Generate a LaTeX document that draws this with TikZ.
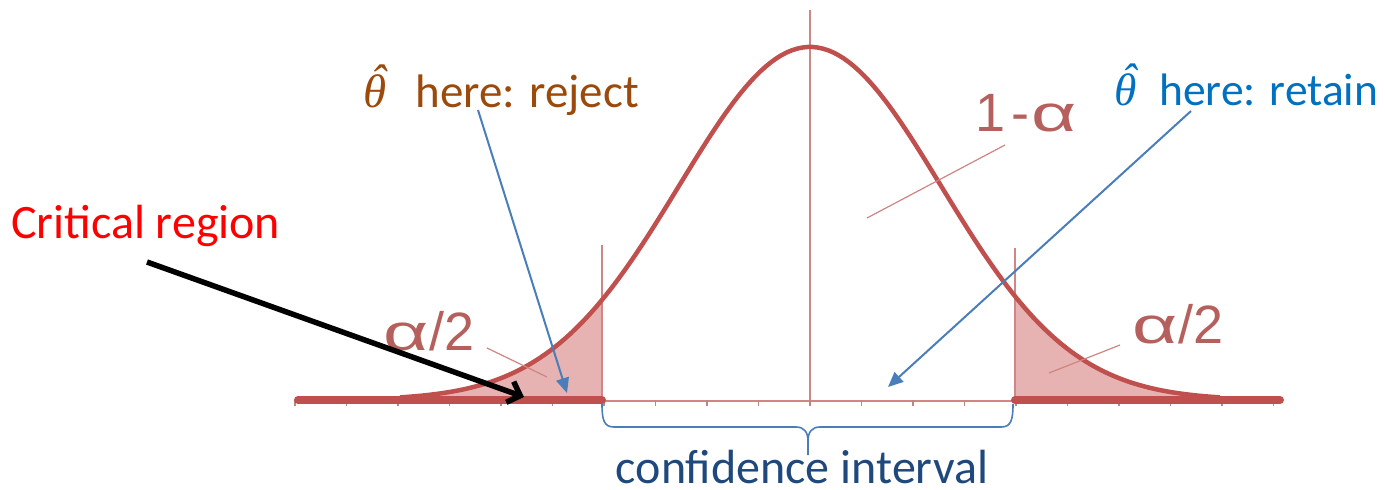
\documentclass[tikz,border=0pt]{standalone}
\usepackage{graphicx}
\usepackage{fontspec}
\setmainfont{Carlito}
\newfontfamily\arialf{Liberation Sans}
\newfontfamily\thetaf{Liberation Serif}
\newcommand{\thhat}{{\thetaf\itshape\rlap{\hspace{0.16em}\raisebox{0.2em}{ˆ}}θ}}
\newcommand{\walpha}{\scalebox{1.45}[0.95]{α}}
\usetikzlibrary{arrows.meta}
\definecolor{curvecol}{HTML}{C0504D}
\definecolor{thincol}{HTML}{CF8684}
\definecolor{tailcol}{HTML}{E6B3B2}
\definecolor{alphacol}{HTML}{B5605D}
\definecolor{leadcol}{HTML}{CC8583}
\definecolor{bluecol}{HTML}{4A7EBB}
\definecolor{rejcol}{HTML}{9C4A0C}
\definecolor{retcol}{HTML}{0070C0}
\definecolor{critcol}{HTML}{FF0000}
\definecolor{cicol}{HTML}{1F497D}
\tikzset{
  thinline/.style={draw=thincol, line width=1.6pt},
  tickmark/.style={draw=thincol!80!gray, line width=1.3pt},
  bellcurve/.style={draw=curvecol, line width=4.5pt, line join=round},
  thickbase/.style={draw=curvecol, line width=8pt, line cap=round},
  tailfill/.style={fill=tailcol},
  alabel/.style={text=alphacol, inner sep=0pt, font=\arialf\fontsize{54}{60}\selectfont},
  leader/.style={draw=leadcol, line width=1.2pt},
  txt/.style={inner sep=0pt, font=\fontsize{47}{56}\selectfont},
  bluearrow/.style={draw=bluecol, line width=2pt, -{Triangle[length=15pt,width=13pt]}},
  blackarrow/.style={draw=black, line width=5.5pt, -{Straight Barb[length=11pt,width=22pt]}},
  bracestyle/.style={draw=bluecol, line width=1.6pt}
}
\begin{document}
\begin{tikzpicture}[x=1pt,y=-1pt,
  declare function={g(\x)=400-353*exp(-0.5*((\x-810)/131)*((\x-810)/131));}]
\useasboundingbox (0,0) rectangle (1385,490);
% tail areas
\fill[tailfill] (400,400) -- plot[domain=400:602,samples=60] (\x,{g(\x)}) -- (602,400) -- cycle;
\fill[tailfill] (1015,400) -- plot[domain=1015:1220,samples=60] (\x,{g(\x)}) -- (1220,400) -- cycle;
% vertical lines
\draw[thinline] (810,10) -- (810,400);
\draw[thinline] (602,245) -- (602,400);
\draw[thinline] (1015,248) -- (1015,400);
% thin axis and ticks
\draw[thinline] (602,401) -- (1015,401);
\foreach \k in {-10,...,9} \draw[tickmark] ({810+51.5*\k},400) -- ++(0,6);
% curve
\draw[bellcurve] plot[domain=400:1220,samples=160] (\x,{g(\x)});
% critical region baselines
\draw[thickbase] (298,400) -- (602,400);
\draw[thickbase] (1015,400) -- (1280,400);
% alpha labels and leaders
\node[alabel, anchor=base] (oneminus) at (1026,131) {1\hspace{0.12em}-\hspace{0.03em}\walpha};
\node[alabel, anchor=base] (aleft) at (429,350) {\walpha/2};
\node[alabel, anchor=base] (aright) at (1178,343) {\walpha/2};
\coordinate (l1a) at (867,218); \coordinate (l1b) at (1005,145);
\coordinate (l2a) at (487,348); \coordinate (l2b) at (547,377);
\coordinate (l3a) at (1049,373); \coordinate (l3b) at (1120,345);
\draw[leader] (l1a) -- (l1b);
\draw[leader] (l2a) -- (l2b);
\draw[leader] (l3a) -- (l3b);
% texts
\node[txt, anchor=base west, text=critcol, font=\fontsize{48}{56}\selectfont] (crit) at (11,238) {Critical region};
\node[txt, anchor=base west, text=rejcol] (rej) at (363,107) {\thhat\hspace{0.62em}here: reject};
\node[txt, anchor=base west, text=retcol, font=\fontsize{45.5}{54}\selectfont] (ret) at (1114,105) {\thhat\hspace{0.5em}here: retain};
\node[txt, anchor=base, text=cicol, font=\fontsize{48}{56}\selectfont] (ci) at (802,483) {confidence interval};
% arrows
\coordinate (rejs) at (478,110); \coordinate (rejt) at (567,393);
\coordinate (rets) at (1191,111); \coordinate (rett) at (888,387);
\coordinate (crits) at (147,262); \coordinate (critt) at (524,397);
\draw[bluearrow] (rejs) -- (rejt);
\draw[bluearrow] (rets) -- (rett);
\draw[blackarrow] (crits) -- (critt);
% brace
\coordinate (bl) at (602,404); \coordinate (br) at (1013,404); \coordinate (btip) at (808,455);
\draw[bracestyle] (bl) .. controls (602,420) and (604,427) .. (614,427) -- (796,427)
   .. controls (804,427) and (808,432) .. (808,441) -- (btip);
\draw[bracestyle] (br) .. controls (1013,420) and (1011,427) .. (1001,427) -- (820,427)
   .. controls (812,427) and (808,432) .. (808,441);
\end{tikzpicture}
\end{document}
